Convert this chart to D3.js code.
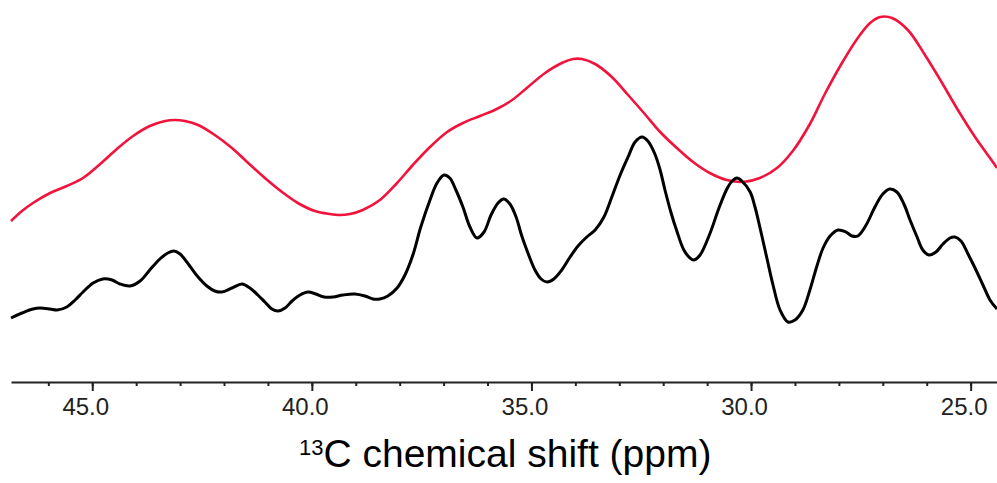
<!DOCTYPE html>
<html>
<head>
<meta charset="utf-8">
<script src="https://cdn.jsdelivr.net/npm/d3@7"></script>
<style>
  html, body { margin: 0; padding: 0; background: #fff; }
  svg { display: block; }
</style>
</head>
<body>
<svg id="chart" width="997" height="483"></svg>
<script>
// ---- DATA (ppm, intensity in arbitrary units) ----
const blackSpectrum = [
  [46.85,64],[46.60,69],[46.35,73],[46.19,74],[45.96,73],[45.80,72],[45.58,75],[45.39,82],
  [45.21,90],[44.98,99],[44.76,103],[44.55,102],[44.37,98],[44.14,96],[43.91,101],[43.69,112],
  [43.46,123],[43.28,129],[43.14,131],[43.00,128],[42.78,116],[42.59,105],[42.39,96],[42.21,91],
  [42.05,90],[41.82,94],[41.59,98],[41.41,94],[41.23,87],[41.07,80],[40.91,73],[40.77,71],
  [40.61,74],[40.45,81],[40.27,87],[40.09,90],[39.91,88],[39.72,85],[39.52,85],[39.29,87],
  [39.02,88],[38.79,86],[38.61,83],[38.45,83],[38.27,86],[38.06,94],[37.88,107],[37.70,127],
  [37.52,155],[37.31,182],[37.15,199],[36.99,207],[36.86,204],[36.72,192],[36.56,175],[36.40,155],
  [36.24,144],[36.08,150],[35.92,167],[35.76,179],[35.63,183],[35.49,178],[35.35,165],[35.22,146],
  [35.08,129],[34.92,112],[34.78,103],[34.65,100],[34.49,103],[34.31,112],[34.12,125],[33.94,136],
  [33.74,145],[33.55,152],[33.35,165],[33.17,185],[32.98,207],[32.80,225],[32.64,240],[32.48,245],
  [32.35,241],[32.19,228],[32.07,212],[31.96,192],[31.82,169],[31.69,151],[31.53,132],[31.39,124],
  [31.30,122],[31.16,127],[30.94,148],[30.73,174],[30.55,193],[30.43,201],[30.32,204],[30.21,201],
  [30.02,190],[29.91,175],[29.80,155],[29.64,124],[29.50,97],[29.34,72],[29.16,60],[29.00,62],
  [28.82,72],[28.66,92],[28.50,116],[28.36,134],[28.20,146],[28.02,152],[27.84,150],[27.70,146],
  [27.57,146],[27.38,157],[27.18,175],[27.00,188],[26.84,193],[26.68,190],[26.52,178],[26.38,162],
  [26.22,145],[26.09,132],[25.95,127],[25.79,130],[25.63,138],[25.47,144],[25.36,145],[25.22,141],
  [25.06,128],[24.90,114],[24.72,97],[24.56,82],[24.40,73]
];
const redSpectrum = [
  [46.85,161],[46.60,171],[46.35,179],[45.96,189],[45.58,196],[45.21,204],[44.82,218],[44.44,233],
  [44.07,246],[43.69,256],[43.34,261],[43.12,262],[42.89,261],[42.59,257],[42.21,247],[41.82,234],
  [41.45,219],[41.07,204],[40.68,190],[40.32,179],[39.93,171],[39.59,168],[39.36,167],[39.13,168],
  [38.84,172],[38.45,182],[38.06,199],[37.70,217],[37.31,235],[36.92,250],[36.56,259],[36.17,266],
  [35.79,273],[35.44,282],[35.08,295],[34.69,309],[34.31,319],[34.05,323],[33.85,323],[33.55,318],
  [33.17,305],[32.80,287],[32.42,268],[32.07,250],[31.69,234],[31.32,220],[30.94,209],[30.55,202],
  [30.18,200],[29.80,204],[29.41,214],[29.05,231],[28.66,258],[28.32,288],[27.93,319],[27.57,344],
  [27.29,359],[27.06,365],[26.79,364],[26.43,352],[26.04,327],[25.65,299],[25.29,272],[24.90,245],
  [24.51,221],[24.40,214]
];
const ppmDomain = [46.85, 24.40];
const majorTicks = [45, 40, 35, 30, 25];
const minorTicks = [46,45,44,43,42,41,40,39,38,37,36,35,34,33,32,31,30,29,28,27,26,25];
const axisTitleSup = "13";
const axisTitleMain = "C chemical shift (ppm)";

// ---- DRAWING ----
const svg = d3.select("#chart");
const axisY = 382;
const x = d3.scaleLinear().domain(ppmDomain).range([11, 997]);
const y = d3.scaleLinear().domain([0, 382]).range([axisY, 0]);

const line = d3.line()
  .x(d => x(d[0]))
  .y(d => y(d[1]))
  .curve(d3.curveCatmullRom.alpha(0.5));

svg.append("path")
  .datum(redSpectrum)
  .attr("fill", "none")
  .attr("stroke", "#f2133c")
  .attr("stroke-width", 2.6)
  .attr("stroke-linejoin", "round")
  .attr("d", line);

svg.append("path")
  .datum(blackSpectrum)
  .attr("fill", "none")
  .attr("stroke", "#000")
  .attr("stroke-width", 3)
  .attr("stroke-linejoin", "round")
  .attr("d", line);

// minor ticks
const minorAxis = d3.axisBottom(x).tickValues(minorTicks).tickSize(4).tickFormat("");
const gMinor = svg.append("g").attr("transform", `translate(0,${axisY})`).call(minorAxis);
gMinor.select(".domain").remove();
gMinor.selectAll(".tick line").attr("stroke", "#222").attr("stroke-width", 2);

// major ticks + labels
const majorAxis = d3.axisBottom(x).tickValues(majorTicks).tickSize(9).tickSizeOuter(0)
  .tickFormat(d3.format(".1f"));
const gMajor = svg.append("g").attr("transform", `translate(0,${axisY})`).call(majorAxis);
gMajor.select(".domain").attr("stroke", "#222").attr("stroke-width", 2.2);
gMajor.selectAll(".tick line").attr("stroke", "#222").attr("stroke-width", 2);
gMajor.selectAll(".tick text")
  .attr("y", 33).attr("dy", 0).attr("dx", -7)
  .attr("fill", "#222")
  .style("font-family", "'Liberation Sans', Arial, Helvetica, sans-serif")
  .style("font-size", "24px");

// axis title
const title = svg.append("text")
  .attr("x", 299).attr("y", 467)
  .attr("fill", "#000")
  .style("font-family", "'Liberation Sans', Arial, Helvetica, sans-serif");
title.append("tspan").attr("dy", -12).style("font-size", "22px").text(axisTitleSup);
title.append("tspan").attr("dy", 12).style("font-size", "39px").text(axisTitleMain);
</script>
</body>
</html>
